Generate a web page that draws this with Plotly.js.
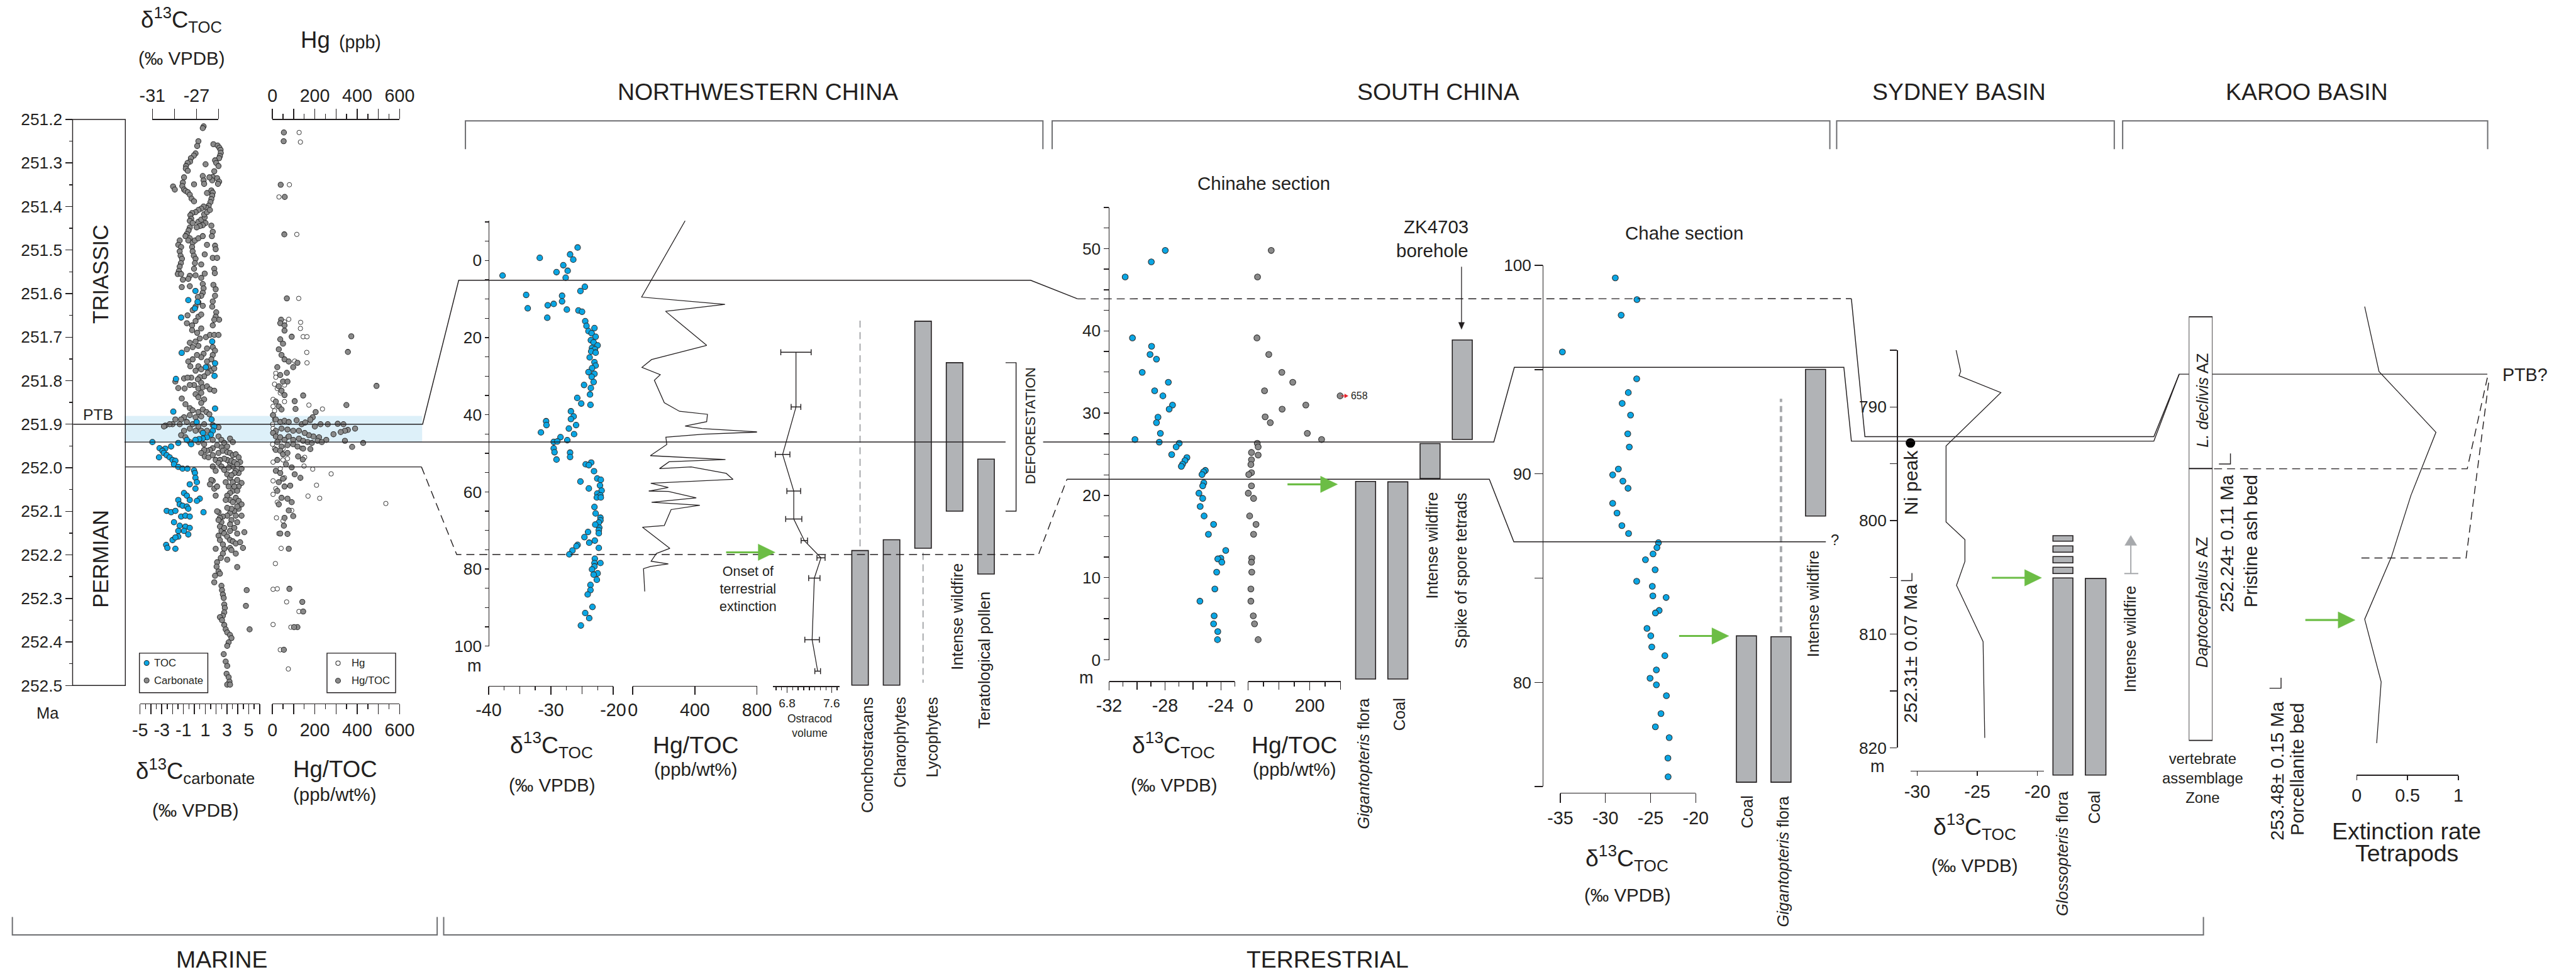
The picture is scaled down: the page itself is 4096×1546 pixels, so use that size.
<!DOCTYPE html>
<html><head><meta charset="utf-8">
<script src="https://cdn.plot.ly/plotly-3.0.1.min.js"></script>
<style>html,body{margin:0;padding:0;background:#fff;}#chart{width:4096px;height:1546px;}</style>
</head><body><div id="chart"></div>
<script>
// ===================== DATA =====================
// Marine section (Meishan): [age Ma, value]
const carbonate = [
[251.199,0.95],[251.216,0.85],[251.22,0.77],[251.25,0.37],[251.261,0.26],[251.278,0.11],[251.283,-0.05],[251.289,-0.32],[251.297,-0.40],[251.30,-0.63],[251.307,-0.77],[251.313,-0.79],[251.318,-0.61],[251.257,1.75],[251.26,2.14],[251.265,2.30],[251.27,2.41],[251.277,2.43],[251.284,2.35],[251.289,2.28],[251.294,1.90],[251.30,2.01],[251.307,2.22],[251.303,1.03],[251.319,1.83],[251.332,1.69],[251.34,1.64],[251.333,1.38],[251.335,2.09],[251.343,2.28],[251.348,2.17],[251.33,0.77],[251.34,0.85],[251.348,0.90],[251.349,-0.03],[251.333,-0.95],[251.345,-1.06],[251.353,-1.11],[251.361,-0.95],[251.354,-1.96],[251.361,-1.80],[251.364,-0.82],[251.367,-0.61],[251.373,-0.42],[251.382,-0.26],[251.388,-0.03],[251.369,1.16],[251.363,1.56],[251.368,1.69],[251.375,1.64],[251.383,1.56],[251.39,1.48],[251.398,1.32],[251.403,1.11],[251.40,0.85],[251.405,0.63],[251.408,0.37],[251.413,0.11],[251.415,-0.21],[251.42,-0.37],[251.428,-0.29],[251.433,-0.42],[251.438,-0.16],[251.435,0.37],[251.43,0.63],[251.425,0.95],[251.418,0.90],[251.413,1.16],[251.408,1.43],[251.438,1.03],[251.443,0.77],[251.445,0.50],[251.448,0.21],[251.448,-0.42],[251.455,-0.53],[251.463,-0.69],[251.468,-0.82],[251.473,-0.42],[251.478,-0.56],[251.483,-0.16],[251.478,0.05],[251.473,0.37],[251.468,0.77],[251.444,1.56],[251.458,1.69],[251.468,1.61],[251.478,-1.35],[251.488,-1.48],[251.493,-1.22],[251.503,-1.35],[251.513,-1.27],[251.52,-1.14],[251.53,-1.24],[251.538,-1.35],[251.548,-1.43],[251.555,-1.53],[251.555,-1.22],[251.493,-0.21],[251.503,-0.16],[251.513,-0.05],[251.52,0.11],[251.53,0.05],[251.543,-0.03],[251.533,0.63],[251.51,0.95],[251.488,1.16],[251.49,1.90],[251.498,1.96],[251.518,1.69],[251.518,2.09],[251.543,1.83],[251.553,1.88],[251.554,0.95],[251.564,0.63],[251.558,0.11],[251.559,-0.42],[251.566,-0.56],[251.568,-1.06],[251.585,-1.16],[251.583,-0.42],[251.578,0.77],[251.588,0.85],[251.598,0.77],[251.605,0.63],[251.608,0.32],[251.62,0.37],[251.63,0.11],[251.638,-0.16],[251.65,-0.63],[251.668,-0.69],[251.673,-0.21],[251.663,0.11],[251.653,0.37],[251.648,0.63],[251.58,1.75],[251.59,1.96],[251.605,1.90],[251.618,1.69],[251.63,1.64],[251.643,2.01],[251.653,1.96],[251.66,2.28],[251.66,1.83],[251.673,1.69],[251.628,0.77],
[251.684,-0.21],[251.69,0.26],[251.68,0.63],[251.70,1.06],[251.695,1.43],[251.695,1.83],[251.695,2.22],[251.703,0.50],[251.71,0.11],[251.72,0.37],[251.726,1.16],[251.723,1.69],[251.731,1.90],[251.713,-0.42],[251.723,-0.16],[251.728,-0.69],[251.738,0.85],[251.746,0.63],[251.741,0.24],[251.741,1.69],[251.751,1.56],[251.756,1.16],[251.751,-0.16],[251.756,-0.56],[251.767,-0.37],[251.767,0.37],[251.774,0.63],[251.777,0.11],[251.769,1.30],[251.777,1.56],[251.772,1.83],[251.782,1.22],[251.79,0.90],[251.792,0.50],[251.797,0.32],[251.793,-0.29],[251.795,-0.95],[251.793,-0.63],[251.805,0.63],[251.81,-0.03],[251.81,-0.42],[251.802,-1.75],[251.817,-1.48],[251.818,-0.90],[251.818,0.37],[251.815,0.77],[251.813,1.16],[251.82,1.43],[251.823,1.83],[251.828,0.63],[251.831,0.11],[251.838,0.37],[251.843,0.90],[251.851,0.63],[251.841,-1.16],[251.854,-0.82],[251.863,-0.42],[251.868,-0.16],[251.872,0.37],[251.866,0.77],[251.872,1.11],[251.877,1.38],[251.882,0.63],[251.884,0.11],[251.879,-0.42],[251.884,-0.95],[251.889,-1.22],[251.889,-1.75],[251.90,-2.01],[251.90,-2.28],[251.903,-2.67],[251.905,-2.80],[251.90,-1.35],[251.895,-0.69],[251.90,-0.16],[251.905,0.37],[251.90,0.90],[251.902,1.69],[251.907,2.22],[251.915,1.16],[251.915,0.63],[251.915,0.11],[251.91,-0.42],[251.915,-0.95],[251.925,-1.22],[251.93,-0.82],[251.941,-0.42],[251.941,0.37],[251.946,0.90],[251.936,1.69],[251.928,2.22],[251.936,2.49],[251.943,2.75],[251.933,3.28],[251.941,3.54],[251.951,3.02],[251.953,2.49],[251.948,2.09],[251.955,1.69],[251.959,1.43],[251.961,1.16],[251.959,0.90],[251.966,0.63],[251.974,0.95],[251.976,1.30],[251.971,1.69],[251.982,1.96],[251.966,2.22],[251.961,2.62],[251.964,3.02],[251.966,3.28],[251.971,3.54],[251.969,3.81],[251.976,4.07],[251.987,4.21],[252.002,4.34],[252.012,4.07],[252.007,3.81],[251.997,3.54],[251.989,3.28],[251.982,3.02],[251.979,2.75],[251.982,2.35],[251.989,2.22],[251.997,2.49],[252.005,2.75],[252.015,3.02],[252.023,3.28],[252.033,3.54],[252.028,3.94],[252.035,4.34],[252.043,4.07],[252.051,3.81],[252.053,3.54],[252.058,3.28],[252.064,3.02],[252.074,3.28],[252.069,3.81],[252.076,4.07],[252.084,4.34],[252.094,4.07],[252.099,3.68],[252.104,3.28],[252.11,3.02],[252.112,2.62],[252.102,2.22],[252.10,2.09],[252.115,2.35],[252.125,2.49],[252.135,2.35],[252.145,2.49],[252.151,2.75],[252.158,3.02],[252.166,3.28],[252.169,3.54],[252.174,3.81],[252.171,4.21],[252.184,4.47],[252.184,3.28],[252.186,2.75],[252.197,2.62],[252.207,2.43],[252.211,3.02],[252.228,3.94],[252.217,2.09],[252.227,2.04],[252.238,2.22],[252.243,2.35],[252.03,1.69],[252.048,1.83],[252.064,1.96],[252.028,1.56],[252.038,1.43],[251.997,1.69],[252.007,1.96],[252.043,2.09],[252.271,2.49],[252.281,2.54],[252.291,2.62],[252.299,2.70],[252.314,2.75],[252.322,2.80],[252.332,2.75],[252.34,2.62],[252.343,2.35],[252.35,2.54],[252.361,2.75],[252.371,2.88],[252.378,3.02],[252.384,3.28],[252.391,3.41],[252.401,3.15],[252.409,3.02],[252.428,2.70],[252.445,2.88],[252.455,3.02],[252.473,2.96],[252.281,4.81],[252.317,4.74],[252.371,5.08],[252.263,1.83],[252.248,1.90],[252.186,1.96],
[251.984,3.41],[251.987,3.68],[251.992,3.94],[252.0,3.15],[252.012,3.68],[252.017,3.41],[252.043,3.68],[252.053,3.94],[252.043,3.15],[252.033,2.88],[252.074,2.88],[252.079,3.54],[252.089,3.94],[252.094,3.41],[252.092,3.02],[252.11,3.81],[252.11,4.34],[252.12,3.41],[252.13,3.28],[252.125,3.94],[252.138,3.68],[252.138,2.75],[252.12,2.22],[252.145,3.28],[252.151,3.94],[252.148,4.60],[252.156,2.22],[252.166,2.35],[252.176,2.62],[252.189,3.41],[252.197,3.81],
[252.481,3.15],[252.491,3.23],[252.498,3.02],[252.498,3.28],[252.502,2.88],[252.504,2.62],[252.508,2.83]
];
const tocMarine = [
[251.594,-27.09],[251.615,-27.74],[251.619,-26.90],[251.634,-27.14],[251.655,-28.39],
[251.71,-25.57],[251.736,-28.34],[251.769,-26.15],[251.76,-25.31],[251.789,-25.36],[251.796,-28.86],[251.864,-25.31],[251.871,-29.10],[251.889,-25.63],[251.895,-26.98],[251.905,-25.39],[251.915,-25.52],[251.92,-26.41],[251.924,-25.70],[251.93,-26.04],[251.933,-26.43],[251.934,-26.75],[251.936,-27.09],[251.946,-27.48],[251.936,-27.87],[251.941,-31.0],[251.943,-28.65],[251.951,-29.30],[251.955,-30.35],[251.956,-29.83],[251.961,-30.09],[251.966,-29.96],[251.971,-29.70],[251.976,-30.40],[251.976,-29.43],[251.982,-29.17],[251.984,-28.91],[251.992,-29.04],[251.998,-28.65],[252.002,-28.26],[252.002,-27.82],[252.006,-27.22],[252.012,-27.14],[252.023,-27.09],[252.033,-26.96],[252.038,-27.61],[252.048,-27.09],[252.058,-28.13],[252.064,-27.87],[252.074,-27.61],[252.071,-26.70],[252.076,-26.96],[252.074,-28.65],[252.084,-28.52],[252.087,-28.26],[252.089,-27.87],[252.094,-27.74],[252.099,-29.70],[252.102,-29.30],[252.099,-28.91],[252.112,-28.39],[252.11,-28.0],[252.112,-27.61],[252.125,-29.04],[252.133,-28.52],[252.135,-28.0],[252.138,-27.61],[252.145,-28.13],[252.145,-28.65],[252.153,-27.74],[252.158,-28.65],[252.166,-29.17],[252.16,-28.91],[252.177,-29.75],[252.184,-29.64],[252.186,-28.91],[252.102,-26.36]
];
const hgTocMarine = [
[251.23,54],[251.25,53],[251.35,39],[251.378,58],[251.464,56],[251.611,68],[251.66,41],[251.668,37],[251.673,57],
[251.685,57],[251.699,91],[251.698,372],[251.734,356],[251.705,37],[251.715,50],[251.728,30],[251.741,43],[251.751,57],[251.756,77],[251.759,118],[251.769,23],[251.769,98],[251.782,68],[251.787,37],[251.802,50],[251.802,71],[251.813,30],[251.812,491],[251.823,43],[251.833,57],[251.834,145],[251.847,105],[251.856,349],[251.848,16],[251.859,30],[251.866,43],[251.865,109],[251.872,204],[251.884,190],[251.879,3],[251.889,16],[251.895,37],[251.892,57],[251.895,77],[251.891,114],[251.90,138],[251.896,155],[251.889,179],[251.905,200],[251.90,227],[251.90,261],[251.899,308],[251.90,335],[251.913,356],[251.91,390],[251.915,342],[251.918,322],[251.923,288],[251.936,254],[251.93,220],[251.928,193],[251.925,172],[251.92,152],[251.915,125],[251.915,98],[251.912,71],[251.91,43],[251.915,16],[251.92,3],[251.928,16],[251.93,37],[251.936,57],[251.928,77],[251.936,98],[251.933,125],[251.938,145],[251.941,166],[251.943,186],[251.938,213],[251.941,233],[251.938,342],[251.952,376],[251.943,428],[251.941,23],[251.951,43],[251.948,71],[251.946,98],[251.951,118],[251.956,145],[251.957,179],[251.959,16],[251.961,37],[251.969,50],[251.966,71],[251.974,121],[251.981,143],[251.982,23],[251.992,64],[251.999,91],[252.023,132],[252.015,105],[252.007,16],[252.012,37],[252.025,50],[252.033,30],[252.043,57],[252.053,23],[252.041,84],[252.069,43],[252.071,71],[252.079,91],[252.084,30],[252.098,77],[252.111,98],[252.115,57],[252.133,54],[252.151,37],[252.152,71],[252.186,77],[252.278,80],[252.308,141],[252.33,145],[252.366,118],[252.418,54],[252.366,102]
];
const hgMarine = [
[251.23,126],[251.252,132],[251.35,80],[251.378,31],[251.464,115],[251.611,124],[251.659,77],[251.665,57],[251.666,133],
[251.68,132],[251.699,145],[251.699,163],[251.735,162],[251.759,163],[251.755,105],[251.783,16],[251.792,16],[251.808,10],[251.818,23],[251.81,57],[251.828,37],[251.843,3],[251.848,57],[251.856,172],[251.865,236],[251.892,179],[251.90,1],[251.91,3],[251.93,71],[251.955,138],[251.976,152],[251.996,149],[252.003,190],[252.014,277],[252.023,57],[252.04,208],[252.065,168],[252.07,223],[252.082,535],[252.03,3],[252.048,16],[252.061,3],[252.079,23],[252.098,91],[252.115,19],[252.122,50],[252.151,30],[252.185,41],[252.22,14],[252.279,3],[252.278,23],[252.308,67],[252.33,125],[252.36,3],[252.366,87],[252.418,37],[252.462,75],
[251.859,3],[251.869,10],[251.879,1],[251.889,10],[251.92,16],[251.936,30],[251.946,1],[251.956,10],[251.956,50],[251.979,71],[251.987,3],[251.982,50],[252.002,37]
];
const ptbBand = [251.881, 251.941];

// Northwestern China: [depth m, value]
const nwD13C = [
[-3.35,-25.71],[-0.67,-31.79],[-1.56,-26.92],[-0.22,-26.41],[1.23,-28.01],[3.02,-29.10],[2.68,-27.31],[4.47,-27.63],[3.91,-37.76],[6.82,-24.55],[7.93,-25.26],[8.94,-33.97],[9.16,-28.21],[12.40,-33.72],[10.61,-28.21],[11.28,-29.55],[11.62,-30.51],[12.74,-27.44],[12.96,-25.58],[13.30,-25.0],[14.86,-30.58],[15.75,-24.49],[16.98,-24.29],[17.54,-23.01],[18.32,-23.97],[18.88,-23.46],[19.78,-22.82],[20.67,-23.59],[21.23,-23.14],[22.01,-22.50],[22.68,-23.40],[23.02,-22.95],[23.58,-23.53],[25.14,-23.78],[23.91,-22.82],[26.37,-23.01],[27.26,-22.82],[27.93,-23.40],[28.94,-23.97],[29.39,-23.01],[30.17,-23.46],[31.51,-23.14],[32.29,-24.68],[33.07,-23.59],[34.75,-23.72],[35.64,-25.77],[37.09,-25.13],[37.43,-23.65],[39.11,-26.79],[40.45,-26.35],[41.12,-26.79],[41.68,-30.77],[42.68,-25.96],[42.68,-30.71],[43.58,-27.12],[44.58,-31.60],[45.03,-26.28],[45.81,-28.46],[46.59,-27.37],[47.04,-29.55],[46.93,-28.97],[48.72,-29.55],[49.83,-26.92],[49.72,-29.42],[50.95,-26.92],[51.62,-29.10],[52.40,-23.53],[52.85,-24.42],[53.07,-23.91],[54.64,-23.08],[56.54,-22.56],[56.87,-21.99],[57.32,-25.26],[58.32,-22.12],[59.11,-23.91],[59.66,-21.86],[60.45,-22.56],[60.89,-22.05],[61.45,-22.63],[61.45,-21.99],[63.91,-23.01],[65.59,-22.82],[66.70,-22.05],[67.37,-22.05],[67.93,-22.31],[69.27,-22.24],[68.49,-22.88],[69.94,-22.31],[70.39,-24.04],[70.73,-22.31],[71.73,-24.62],[72.63,-22.95],[73.18,-23.85],[73.74,-25.71],[74.08,-25.90],[75.20,-26.54],[76.20,-27.05],[74.53,-22.31],[77.32,-22.95],[78.44,-23.01],[78.44,-22.05],[79.33,-23.01],[80.11,-23.40],[81.12,-22.50],[81.45,-23.14],[82.79,-22.63],[84.13,-23.65],[85.47,-23.65],[86.59,-24.10],[89.83,-23.33],[91.40,-24.49],[92.74,-23.85],[94.64,-25.19]
];
const nwHgToc = [
[-10.28,337],[9.50,57],[11.40,594],[13.18,211],[22.01,476],[25.70,121],[27.71,59],[29.61,177],[31.06,139],[36.87,203],[39.11,301],[39.89,481],[41.79,476],[42.91,337],[43.58,445],[44.47,820],[45.03,453],[45.81,213],[47.71,219],[50.61,113],[51.62,597],[52.18,234],[53.97,172],[53.52,376],[55.20,602],[56.76,646],[57.77,116],[58.88,229],[59.78,103],[59.89,229],[61.56,409],[62.68,121],[63.46,432],[64.58,247],[68.72,203],[69.16,62],[74.64,239],[75.98,152],[77.99,118],[78.66,229],[79.33,116],[79.89,69],[85.81,77]
];
// Ostracod volume: [depth m, mean, half error]
const nwOstracod = [
[23.80,6.96,0.273],[37.99,6.96,0.087],[50.28,6.72,0.131],[59.78,6.92,0.124],[67.04,6.92,0.145],[72.63,7.11,0.058],[77.09,7.41,0.073],[82.35,7.29,0.102],[98.32,7.25,0.131],[106.48,7.35,0.051]
];
const nwBarNames = ['Conchostracans','Charophytes','Lycophytes','Intense wildfire','Teratological pollen'];
const nwBarTop = [75.2, 72.4, 15.75, 26.5, 51.5];
const nwBarBottom = [110.1, 110.1, 74.6, 65.0, 81.3];
const nwRangeDashed = [[0, 15.6, 74.9], [2, 75.8, 109.5]]; // [bar index, from m, to m]

// South China - Chinahe section: [height m, value]
const chD13C = [
[49.78,-27.98],[48.39,-28.98],[46.56,-30.85],[39.15,-30.33],[38.13,-28.96],[37.14,-29.07],[36.56,-28.61],[34.96,-29.63],[33.75,-27.76],[32.72,-28.74],[32.10,-28.15],[30.98,-27.46],[30.49,-27.70],[29.51,-28.50],[28.84,-28.61],[27.54,-28.33],[26.79,-30.15],[26.47,-28.41],[26.34,-26.98],[25.89,-27.20],[24.96,-27.52],[24.60,-26.43],[24.24,-26.57],[23.79,-26.74],[23.53,-26.83],[23.04,-25.11],[22.86,-25.24],[22.54,-25.35],[21.52,-25.22],[21.16,-25.30],[20.27,-25.57],[19.64,-25.30],[18.66,-25.48],[17.50,-25.20],[16.47,-24.52],[15.27,-24.89],[13.30,-23.65],[12.37,-24.0],[12.28,-24.22],[11.88,-23.93],[10.67,-24.30],[8.62,-24.43],[7.14,-25.50],[5.36,-24.48],[4.38,-24.52],[3.44,-24.22],[2.46,-24.24]
];
const chHgToc = [
[49.78,74.9],[46.56,30.5],[39.15,28.6],[37.14,67.0],[34.96,109.4],[33.75,144.8],[32.72,53.2],[32.10,658],[30.98,187.2],[30.49,110.3],[29.55,55.2],[28.84,71.9],[27.54,192.1],[26.79,238.4],[26.34,29.6],[25.89,32.5],[25.22,10.8],[24.91,32.5],[24.33,10.8],[23.75,8.9],[22.77,10.8],[22.54,2.0],[21.16,10.8],[20.27,0.5],[19.64,17.7],[17.50,4.9],[16.47,25.6],[15.27,17.7],[12.37,11.8],[11.88,10.8],[10.67,11.8],[8.62,8.9],[7.14,8.9],[5.36,16.7],[4.38,20.7],[2.46,32.5]
];
const chBarNames = ['Gigantopteris flora','Coal','Intense wildfire','Spike of spore tetrads'];
const chBarBottom = [-2.33, -2.33, 22.05, 26.8];
const chBarTop = [21.7, 21.65, 26.3, 38.9];

// South China - Chahe section: [height m, value]
const caD13C = [
[100.1,-29.34],[99.40,-28.91],[98.36,-26.51],[97.61,-28.26],[95.85,-34.77],[95.17,-35.99],[94.56,-26.54],[93.90,-27.47],[93.38,-28.15],[92.82,-27.22],[91.92,-27.53],[91.29,-27.36],[90.23,-28.57],[89.95,-29.20],[89.65,-28.07],[89.31,-27.50],[88.59,-29.20],[88.12,-28.72],[87.52,-28.18],[87.14,-27.44],[86.70,-24.13],[86.46,-24.30],[86.16,-24.73],[85.88,-25.57],[85.40,-24.50],[84.85,-26.54],[84.61,-24.81],[84.15,-24.75],[84.07,-23.28],[83.45,-24.05],[83.33,-24.47],[82.59,-25.40],[82.23,-24.98],[81.70,-24.87],[81.28,-23.42],[80.60,-24.36],[80.20,-25.06],[79.88,-24.36],[79.36,-23.25],[78.50,-23.85],[77.87,-24.47],[77.35,-22.94],[76.37,-23.08],[75.47,-23.06]
];
const caBarNames = ['Coal','Gigantopteris flora','Intense wildfire'];
const caBarBottom = [75.21, 75.21, 87.98];
const caBarTop = [82.23, 82.19, 95.01];
const caGigantopterisRange = [82.4, 93.6];

// Sydney Basin: [depth m, value]
const syD13C = [[784.92,-26.78],[786.86,-26.38],[787.25,-26.52],[788.74,-23.04],[793.43,-27.6],[800.13,-27.6],[801.68,-26.03],[803.59,-26.03],[805.7,-26.73],[810.65,-24.52],[819.13,-24.38]];
const syNiPeakDepth = 793.17;
const syGlossTop = [801.33, 802.23, 803.17, 804.11, 805.05];
const syGlossBottom = [801.81, 802.78, 803.72, 804.66, 822.4];
const syCoal = [805.1, 822.4];
const syWildfireFrom = [804.66, 801.3];

// Karoo Basin: relative stratigraphic position (0-100) vs tetrapod extinction rate
const karooTetrapods = [[98.6,0.079],[84.2,0.22],[70.7,0.78],[56.7,0.534],[43.1,0.343],[29.2,0.079],[15.3,0.241],[1.7,0.197]];
const karooZones = [[62.63, 96.34], [2.3, 62.63]]; // L. declivis AZ, Daptocephalus AZ
const karooTies = [83.6, 62.6, 42.8];

// Correlation ties
const tiePTB = {marine: 251.9, nw: 5.14, chinahe: 43.9, chahe: 98.4, sydney: 792.6, karoo: 83.6};
const tieMid = {marine: 251.941, nw: 47.05, chinahe: 26.5, chahe: 95.1, sydney: 793.0};
const tieLow = {marine: 251.998, nw: 76.25, chinahe: 21.97, chahe: 86.72};

// Tick labels
const maTicks = [251.2,251.3,251.4,251.5,251.6,251.7,251.8,251.9,252.0,252.1,252.2,252.3,252.4,252.5];
const carbTicks = [-5,-3,-1,1,3,5];
const carbTicksUnlabeled = [-4,-2,0,2,4,6];
const tocTicks = [-31,-27];
const hgTicks = [0,200,400,600];
const hgTicksUnlabeled = [100,300,500];
const nwD13Ticks = [-40,-30,-20];
const nwHgTicks = [0,400,800];
const ostTicks = [6.8,7.6];
const chD13Ticks = [-32,-28,-24];
const chHgTicks = [0,200];
const caD13Ticks = [-35,-30,-25,-20];
const syD13Ticks = [-30,-25,-20];
const extTicks = [0,0.5,1];
const lbl = arr => arr.map(v => String(v)); // plain hyphen-minus labels

// ===================== GEOMETRY HELPERS =====================
const W = 5144, H = 1942, K = 4096 / 5144;
const PX = x => x / W, PY = y => 1 - y / H, fs = s => s * K;
const FONT = 'Liberation Sans, Arial, Helvetica, sans-serif';
const INK = '#231f20', BLUE = '#0aa6e4', GRAY = '#8a8a8a', BARC = '#b1b3b6', GREEN = '#6cbd45', BRK = '#6d6e71';
const LW = fs(1.8);

const yMa = v => 238.6 + (v - 251.2) * 870;
const yNW = m => 520.4 + m * 7.706;
const yCh = m => 1318.4 - m * 16.43;
const yCa = m => 530.2 + (100 - m) * 41.59;
const ySy = m => 813.3 + (m - 790) * 22.69;
const yKa = v => 1500 - v * 9;

function axBase(extra) {
  return Object.assign({showgrid:false, zeroline:false, fixedrange:true, showline:true, linecolor:INK, linewidth:LW,
    ticks:'outside', tickcolor:INK, tickwidth:LW, tickmode:'array', tickangle:0, automargin:false, layer:'above traces',
    tickfont:{family:FONT, size:fs(36), color:INK}}, extra);
}
function xAx(x0, x1, range, yPos, side, extra) {
  const a = axBase(Object.assign({domain:[PX(x0), PX(x1)], range:range, anchor:'free', position:PY(yPos), side:side}, extra));
  if (a.tickvals && !a.ticktext) a.ticktext = lbl(a.tickvals);
  return a;
}
function yAx(yBot, yTop, range, xPos, extra) {
  const a = axBase(Object.assign({domain:[PY(yBot), PY(yTop)], range:range, anchor:'free', position:PX(xPos), side:'left',
    tickfont:{family:FONT, size:fs(33), color:INK}}, extra));
  if (a.tickvals && !a.ticktext) a.ticktext = lbl(a.tickvals);
  return a;
}
function hid(a0, a1, range, isX) {
  return {domain: isX ? [PX(a0), PX(a1)] : [PY(a0), PY(a1)], range:range, visible:false, fixedrange:true, anchor:'free', position:0, showgrid:false, zeroline:false};
}
function minor(dtick, len, tick0) {
  return {tickmode:'linear', tick0:tick0 || 0, dtick:dtick, ticks:'outside', ticklen:fs(len), tickcolor:INK, tickwidth:LW, showgrid:false};
}
// tick-only twin of an x axis (no labels, no line)
function twin(base, tickvals, len, mnr) {
  const t = Object.assign({}, base, {tickvals:tickvals, ticklen:fs(len), showticklabels:false, showline:false});
  delete t.ticktext;
  if (mnr) t.minor = mnr; else delete t.minor;
  return t;
}

// ===================== AXES =====================
const layout = {
  width:4096, height:1546, margin:{l:0, r:0, t:0, b:0, pad:0},
  paper_bgcolor:'#ffffff', plot_bgcolor:'rgba(0,0,0,0)', showlegend:false, barmode:'overlay',
  font:{family:FONT, color:INK, size:fs(32)}, shapes:[], annotations:[]
};
// marine
layout.yaxis = yAx(1369.6, 238.6, [252.5, 251.2], 145, {showline:false, tickvals:maTicks, ticktext:maTicks.map(v => v.toFixed(1)), ticklen:fs(14), minor:minor(0.05, 7, 251.2)});
layout.xaxis = xAx(279.6, 518.4, [-5, 6], 1405.6, 'bottom', {tickvals:carbTicks, ticklen:fs(20)});
layout.xaxis18 = twin(layout.xaxis, carbTicksUnlabeled, 20, minor(0.5, 10, -5));
layout.xaxis2 = xAx(304.3, 436.3, [-31, -25], 237.5, 'top', {tickvals:tocTicks, ticklen:fs(20), minor:minor(2, 20, -31)});
layout.xaxis3 = xAx(544, 798, [0, 600], 237.5, 'top', {tickvals:hgTicks, ticklen:fs(20)});
layout.xaxis19 = twin(layout.xaxis3, hgTicksUnlabeled, 20, minor(50, 10, 0));
layout.xaxis4 = xAx(544, 798, [0, 600], 1405.6, 'bottom', {tickvals:hgTicks, ticklen:fs(20)});
layout.xaxis20 = twin(layout.xaxis4, hgTicksUnlabeled, 20, minor(50, 10, 0));
// NW China
layout.yaxis2 = yAx(1291, 441, [100, -10.3], 975.7, {tickvals:[0,20,40,60,80,100], ticklen:fs(7), minor:minor(5, 7, 0)});
layout.yaxis3 = hid(1400, 441, [(1400 - 520.4) / 7.706, -10.3], false);
layout.xaxis5 = xAx(975.7, 1224.5, [-40, -20], 1370, 'bottom', {tickvals:nwD13Ticks, ticklen:fs(16)});
layout.xaxis21 = twin(layout.xaxis5, [-35, -25], 16, minor(2.5, 8, -40));
layout.xaxis6 = xAx(1263.6, 1511.6, [0, 800], 1370, 'bottom', {tickvals:nwHgTicks, ticklen:fs(16)});
layout.xaxis7 = xAx(1543.5, 1676.8, [6.546, 7.746], 1370.7, 'bottom', {tickvals:ostTicks, ticktext:ostTicks.map(v => v.toFixed(1)), ticklen:fs(12), minor:minor(0.1, 7, 6.6), tickfont:{family:FONT, size:fs(24), color:INK}});
layout.xaxis8 = hid(1686, 2000.5, [-0.5, 4.5], true);
// Chinahe
layout.yaxis4 = yAx(1318.4, 414.6, [0, 55], 2213.6, {tickvals:[0,10,20,30,40,50], ticklen:fs(9), minor:minor(2.5, 9, 0)});
layout.yaxis5 = hid(1362, 414.6, [-(1362 - 1318.4) / 16.43, 55], false);
layout.xaxis9 = xAx(2214.8, 2465.8, [-32, -23], 1361, 'bottom', {tickvals:chD13Ticks, ticklen:fs(16)});
layout.xaxis22 = twin(layout.xaxis9, [-30, -26], 16, minor(1, 9, -32));
layout.xaxis10 = xAx(2492.4, 2677.9, [0, 301.5], 1361, 'bottom', {tickvals:chHgTicks, ticklen:fs(16)});
layout.xaxis23 = twin(layout.xaxis10, [100, 300], 16, minor(50, 9, 0));
layout.xaxis11 = hid(2694.8, 2952.2, [-0.5, 3.5], true);
// Chahe
layout.yaxis6 = yAx(1571.6, 530.2, [75, 100], 3080.6, {tickvals:[80,90,100], ticklen:fs(16), minor:minor(5, 16, 75)});
layout.xaxis12 = xAx(3115.8, 3386.2, [-35, -20], 1584, 'bottom', {tickvals:caD13Ticks, ticklen:fs(18)});
layout.xaxis13 = hid(3452.9, 3660, [-0.5, 2.5], true);
// Sydney
layout.yaxis7 = yAx(1494, 699.6, [820, 785], 3788, {tickvals:[790,800,810,820], ticklen:fs(14), minor:minor(5, 14, 785)});
layout.yaxis8 = hid(1560, 699.6, [790 + (1560 - 813.3) / 22.69, 785], false);
layout.xaxis14 = xAx(3815, 4081, [-30.56, -19.48], 1539.5, 'bottom', {tickvals:syD13Ticks, ticklen:fs(9)});
layout.xaxis15 = hid(4086.8, 4282.7, [-0.5, 2.5], true);
// Karoo
layout.yaxis9 = hid(1500, 600, [0, 100], false);
layout.xaxis16 = xAx(4706, 4909, [0, 1], 1548, 'bottom', {tickvals:extTicks, ticktext:['0','0.5','1'], ticklen:fs(9)});
layout.xaxis17 = hid(4370.9, 4418.2, [-0.5, 0.5], true);

// ===================== TRACES =====================
const traces = [];
// empty traces that attach the tick-only twin axes
[['x18','y'],['x19','y'],['x20','y'],['x21','y2'],['x22','y4'],['x23','y4']].forEach(a =>
  traces.push({type:'scatter', mode:'markers', x:[], y:[], xaxis:a[0], yaxis:a[1], hoverinfo:'skip'}));
function pts(arr, xa, ya, marker, extra) {
  traces.push(Object.assign({type:'scatter', mode:'markers', x:arr.map(p => p[1]), y:arr.map(p => p[0]), xaxis:xa, yaxis:ya,
    cliponaxis:false, hoverinfo:'skip', marker:marker}, extra));
}
const mk = (c, s, lw) => ({color:c, size:fs(s), line:{color:'#2b2b2b', width:fs(lw || 1.3)}});
function bars(idx, base, top, xa, ya, width, color) {
  traces.push({type:'bar', x:idx, base:base, y:top.map((t, i) => t - base[i]), xaxis:xa, yaxis:ya, width:width,
    marker:{color:color || BARC, line:{color:INK, width:fs(2)}}, hoverinfo:'skip'});
}
// marine
pts(carbonate, 'x', 'y', mk(GRAY, 10.5));
pts(tocMarine, 'x2', 'y', mk(BLUE, 11));
pts(hgTocMarine, 'x4', 'y', mk(GRAY, 10.5));
pts(hgMarine, 'x3', 'y', mk('#ffffff', 9, 1.2));
// NW China
traces.push({type:'scatter', mode:'lines', x:nwHgToc.map(p => p[1]), y:nwHgToc.map(p => p[0]), xaxis:'x6', yaxis:'y2', cliponaxis:false, line:{color:INK, width:fs(1.6)}, hoverinfo:'skip'});
pts(nwD13C, 'x5', 'y2', mk(BLUE, 11.5));
traces.push({type:'scatter', mode:'lines', x:nwOstracod.map(p => p[1]), y:nwOstracod.map(p => p[0]), xaxis:'x7', yaxis:'y3', cliponaxis:false,
  line:{color:INK, width:fs(1.6)}, error_x:{type:'data', array:nwOstracod.map(p => p[2]), visible:true, color:INK, thickness:fs(1.8), width:fs(6)}, hoverinfo:'skip'});
bars(nwBarNames.map((n, i) => i), nwBarTop, nwBarBottom, 'x8', 'y3', 0.525);
nwRangeDashed.forEach(r => traces.push({type:'scatter', mode:'lines', x:[r[0], r[0]], y:[r[1], r[2]], xaxis:'x8', yaxis:'y3', cliponaxis:false,
  line:{color:'#a7a9ac', width:fs(2.5), dash:fs(14) + 'px,' + fs(9) + 'px'}, hoverinfo:'skip'}));
// Chinahe
const chHgMax = 298.5;
pts(chD13C, 'x9', 'y4', mk(BLUE, 12));
pts(chHgToc.map(p => [p[0], Math.min(p[1], chHgMax)]), 'x10', 'y4', mk(GRAY, 12));
bars(chBarNames.map((n, i) => i), chBarBottom, chBarTop, 'x11', 'y5', 0.62);
// Chahe
pts(caD13C, 'x12', 'y6', mk(BLUE, 12));
bars(caBarNames.map((n, i) => i), caBarBottom, caBarTop, 'x13', 'y6', 0.58);
traces.push({type:'scatter', mode:'lines', x:[1, 1], y:caGigantopterisRange, xaxis:'x13', yaxis:'y6', cliponaxis:false,
  line:{color:'#a7a9ac', width:fs(5), dash:fs(12) + 'px,' + fs(8) + 'px'}, hoverinfo:'skip'});
// Sydney
traces.push({type:'scatter', mode:'lines', x:syD13C.map(p => p[1]), y:syD13C.map(p => p[0]), xaxis:'x14', yaxis:'y7', cliponaxis:false, line:{color:INK, width:fs(1.6)}, hoverinfo:'skip'});
traces.push({type:'scatter', mode:'markers', x:[-30.56], y:[syNiPeakDepth], xaxis:'x14', yaxis:'y7', cliponaxis:false, marker:{color:'#000', size:fs(19)}, hoverinfo:'skip'});
bars([0,0,0,0,0], syGlossTop, syGlossBottom, 'x15', 'y8', 0.61);
bars([1], [syCoal[0]], [syCoal[1]], 'x15', 'y8', 0.63);
// Karoo
traces.push({type:'scatter', mode:'lines', x:karooTetrapods.map(p => p[1]), y:karooTetrapods.map(p => p[0]), xaxis:'x16', yaxis:'y9', cliponaxis:false, line:{color:INK, width:fs(1.6)}, hoverinfo:'skip'});
bars([0, 0], karooZones.map(z => z[0]), karooZones.map(z => z[1]), 'x17', 'y9', 1, '#ffffff');

// ===================== SHAPES =====================
const S = layout.shapes;
function path(p, opt, close) {
  const d = 'M' + p.map(q => PX(q[0]).toFixed(5) + ',' + PY(q[1]).toFixed(5)).join('L') + (close ? 'Z' : '');
  S.push(Object.assign({type:'path', xref:'paper', yref:'paper', path:d, line:{color:INK, width:LW}}, opt || {}));
}
function ARW(x0, y0, x1, y1, color, lw, hl, hw) {
  const dx = x1 - x0, dy = y1 - y0, L = Math.hypot(dx, dy), ux = dx / L, uy = dy / L;
  const bx = x1 - ux * hl, by = y1 - uy * hl;
  path([[x0, y0], [bx + ux * 2, by + uy * 2]], {line:{color:color, width:lw}});
  path([[x1, y1], [bx - uy * hw, by + ux * hw], [bx + uy * hw, by - ux * hw]], {fillcolor:color, line:{color:color, width:fs(0.5)}}, true);
}
const DASH = fs(16) + 'px,' + fs(10) + 'px';
// blue PTB band (marine)
S.push({type:'rect', xref:'paper', yref:'y', x0:PX(248.6), x1:PX(843), y0:ptbBand[0], y1:ptbBand[1], fillcolor:'#ddf0f9', line:{width:0}, layer:'below'});
// marine box
S.push({type:'rect', xref:'paper', yref:'paper', x0:PX(145), x1:PX(250.3), y0:PY(1369.6), y1:PY(238.6), line:{color:INK, width:LW}});
// PTB correlation line
path([[146, yMa(tiePTB.marine)], [844, yMa(tiePTB.marine)], [916, yNW(tiePTB.nw)], [2058, yNW(tiePTB.nw)], [2152, yCh(tiePTB.chinahe)]]);
path([[2152, yCh(tiePTB.chinahe)], [3697, yCa(tiePTB.chahe)]], {line:{color:INK, width:LW, dash:DASH}});
path([[3697, yCa(tiePTB.chahe)], [3724, ySy(tiePTB.sydney)], [4301, ySy(tiePTB.sydney)], [4351.5, yKa(tiePTB.karoo)], [4371, yKa(tiePTB.karoo)]]);
path([[4418, yKa(tiePTB.karoo)], [4967, yKa(tiePTB.karoo)]]);
// middle correlation line
path([[248.6, yMa(tieMid.marine)], [2008, yNW(tieMid.nw)]]);
path([[2083, yNW(tieMid.nw)], [2983, yCh(tieMid.chinahe)], [3024, yCa(tieMid.chahe)], [3682, yCa(tieMid.chahe)], [3697, ySy(tieMid.sydney)], [4301, ySy(tieMid.sydney)], [4351.5, yKa(tiePTB.karoo)]]);
// lower correlation line
path([[250.3, yMa(tieLow.marine)], [841.6, yMa(tieLow.marine)]]);
path([[841.6, yMa(tieLow.marine)], [912, yNW(tieLow.nw)], [2073.8, yNW(tieLow.nw)], [2130.6, yCh(tieLow.chinahe)]], {line:{color:INK, width:LW, dash:DASH}});
path([[2130.6, yCh(tieLow.chinahe)], [2974, yCh(tieLow.chinahe)], [3023, yCa(tieLow.chahe)], [3646, yCa(tieLow.chahe)]]);
// Karoo dashed
path([[4967, yKa(karooTies[0]) + 7], [4926.8, yKa(karooTies[1])], [4418, yKa(karooTies[1])]], {line:{color:INK, width:LW, dash:DASH}});
path([[4969.5, yKa(karooTies[0]) + 17], [4924.5, yKa(karooTies[2])], [4709, yKa(karooTies[2])]], {line:{color:INK, width:LW, dash:DASH}});
// DEFORESTATION bracket
path([[2008, yNW(26.5)], [2029, yNW(26.5)], [2029, yNW(65)], [2008, yNW(65)]]);
// date brackets
path([[3796, 1160], [3818, 1160], [3818, 1145]]);
path([[4431, 927], [4454, 927], [4454, 906]]);
path([[4532, 1375], [4555, 1375], [4555, 1354]]);
// Sydney wildfire tick
path([[4242, ySy(syWildfireFrom[0])], [4270, ySy(syWildfireFrom[0])]], {line:{color:'#a7a9ac', width:fs(2.5)}});
// region brackets (top)
[[929.4, 2082.6], [2101, 3654], [3667.6, 4222], [4238.7, 4967.6]].forEach(b => path([[b[0], 298], [b[0], 241.5], [b[1], 241.5], [b[1], 298]], {line:{color:BRK, width:fs(2.5)}}));
// bottom brackets
[[24.7, 873], [886, 4400]].forEach(b => path([[b[0], 1832], [b[0], 1868], [b[1], 1868], [b[1], 1832]], {line:{color:BRK, width:fs(2.5)}}));
// marine legends
S.push({type:'rect', xref:'paper', yref:'paper', x0:PX(278.4), x1:PX(415), y0:PY(1384), y1:PY(1305), line:{color:INK, width:LW}});
S.push({type:'rect', xref:'paper', yref:'paper', x0:PX(653), x1:PX(790), y0:PY(1384), y1:PY(1305), line:{color:INK, width:LW}});
function dot(cx, cy, d, fill) { S.push({type:'circle', xref:'paper', yref:'paper', x0:PX(cx - d / 2), x1:PX(cx + d / 2), y0:PY(cy + d / 2), y1:PY(cy - d / 2), fillcolor:fill, line:{color:'#2b2b2b', width:fs(1.3)}}); }
dot(292.8, 1324.6, 10, BLUE); dot(292.8, 1359.4, 10, GRAY); dot(675, 1325, 9, '#ffffff'); dot(675, 1360, 10, GRAY);
// arrows
ARW(1450, 1103.5, 1548, 1103.5, GREEN, fs(4), 34, 16.5);
ARW(2571, 967.7, 2671, 967.7, GREEN, fs(4), 34, 16.5);
ARW(3353, 1270.6, 3452.5, 1270.6, GREEN, fs(4), 34, 16.5);
ARW(3977.5, 1154.4, 4077, 1154.4, GREEN, fs(4), 34, 16.5);
ARW(4603.5, 1238.8, 4703, 1238.8, GREEN, fs(4), 34, 16.5);
ARW(2918.5, 533, 2918.5, 658, INK, fs(1.6), 14, 6);
ARW(4255, ySy(syWildfireFrom[0]), 4255, ySy(syWildfireFrom[1]), '#a7a9ac', fs(2.5), 20, 12);
ARW(2678, 791, 2692, 791, '#e8202a', fs(1.5), 7, 4);

// ===================== ANNOTATIONS =====================
const A = layout.annotations;
function T(text, x, y, size, o) {
  A.push(Object.assign({text:text, x:PX(x), y:PY(y), xref:'paper', yref:'paper', showarrow:false,
    font:{family:FONT, size:fs(size), color:INK}, xanchor:'center', yanchor:'middle'}, o || {}));
}
function TV(text, x, yTop, size, o) { T(text, x, yTop, size, Object.assign({textangle:-90, yanchor:'top'}, o || {})); }
const D13 = 'δ<sup>13</sup>C<sub>TOC</sub>';
// marine
T(D13, 362, 40, 46); T('(‰ VPDB)', 362, 116, 37);
T('Hg', 630, 80, 46); T('(ppb)', 719, 84, 36);
TV('TRIASSIC', 201, 446, 43); TV('PERMIAN', 201, 1016, 43);
T('PTB', 196, 829, 31); T('Ma', 95, 1425, 32);
T('TOC', 305.4, 1324.6, 21, {xanchor:'left'}); T('Carbonate', 305.4, 1360, 21, {xanchor:'left'});
T('Hg', 699, 1324.6, 21, {xanchor:'left'}); T('Hg/TOC', 699, 1360, 21, {xanchor:'left'});
T('δ<sup>13</sup>C<sub>carbonate</sub>', 390, 1541, 46); T('(‰ VPDB)', 390, 1618, 37);
T('Hg/TOC', 669, 1537, 46); T('(ppb/wt%)', 669, 1587, 37);
T('MARINE', 443, 1917, 47); T('TERRESTRIAL', 2651, 1917, 47);
// region titles
T('NORTHWESTERN CHINA', 1513.6, 184, 47); T('SOUTH CHINA', 2872, 184, 47); T('SYDNEY BASIN', 3912, 184, 47); T('KAROO BASIN', 4606, 184, 47);
// NW China
T('m', 948, 1330, 34);
T('Onset of<br>terrestrial<br>extinction', 1494, 1177, 27);
T('Ostracod<br>volume', 1617, 1450, 22);
TV('DEFORESTATION', 2058.6, 731, 28);
TV(nwBarNames[0], 1731, 1390, 32); TV(nwBarNames[1], 1796, 1390, 32); TV(nwBarNames[2], 1861, 1390, 32);
TV(nwBarNames[3], 1911, 1123, 32); TV(nwBarNames[4], 1964.5, 1179, 32);
T(D13, 1102, 1488, 47); T('(‰ VPDB)', 1102, 1568, 37);
T('Hg/TOC', 1389.5, 1488, 47); T('(ppb/wt%)', 1389.5, 1537, 37);
// Chinahe
T('Chinahe section', 2524, 366, 37);
T('ZK4703', 2935, 452.7, 37, {xanchor:'right'}); T('borehole', 2935, 500.4, 37, {xanchor:'right'});
T('m', 2170, 1353.6, 34);
T('658', 2695, 791, 20, {xanchor:'left'});
TV('<i>Gigantopteris</i> flora', 2721.7, 1392, 32); TV('Coal', 2794.7, 1392, 32);
TV(chBarNames[2], 2859, 981, 32); TV(chBarNames[3], 2916.7, 981, 32);
T(D13, 2343.6, 1488, 47); T('(‰ VPDB)', 2343.6, 1568, 37);
T('Hg/TOC', 2585, 1488, 47); T('(ppb/wt%)', 2585, 1537, 37);
// Chahe
T('Chahe section', 3363, 466, 37);
T('?', 3664, 1078, 30);
TV('Coal', 3489, 1587, 32); TV('<i>Gigantopteris</i> flora', 3560, 1587, 32); TV(caBarNames[2], 3621, 1096.5, 32);
T(D13, 3249, 1715, 47); T('(‰ VPDB)', 3249, 1788, 37);
// Sydney
T('m', 3749.5, 1531, 34);
TV('Ni peak', 3816, 897, 38);
TV('252.31± 0.07 Ma', 3814, 1164, 37);
TV('<i>Glossopteris</i> flora', 4117, 1578, 32); TV('Coal', 4182, 1578, 32); TV('Intense wildfire', 4253, 1168, 32);
T(D13, 3943, 1652, 47); T('(‰ VPDB)', 3943, 1729, 37);
// Karoo
TV('<i>L. declivis</i> AZ', 4397, 703, 32); TV('<i>Daptocephalus</i> AZ', 4397, 1070, 32);
T('vertebrate<br>assemblage<br>Zone', 4399, 1554, 30);
TV('252.24± 0.11 Ma', 4446.7, 945.6, 37); TV('Pristine ash bed', 4493.4, 945.6, 37);
TV('253.48± 0.15 Ma', 4546.8, 1399, 37); TV('Porcellanite bed', 4587, 1402, 37);
T('PTB?', 4994, 749, 36, {xanchor:'left'});
T('Extinction rate', 4806, 1661, 47); T('Tetrapods', 4806, 1705, 47);

Plotly.newPlot('chart', traces, layout, {staticPlot:true, displayModeBar:false}).then(gd => {
  // drop empty placeholder text nodes (untitled axes) left in the SVG
  gd.querySelectorAll('text').forEach(t => { if (!t.textContent.trim()) t.remove(); });
});
</script></body></html>
